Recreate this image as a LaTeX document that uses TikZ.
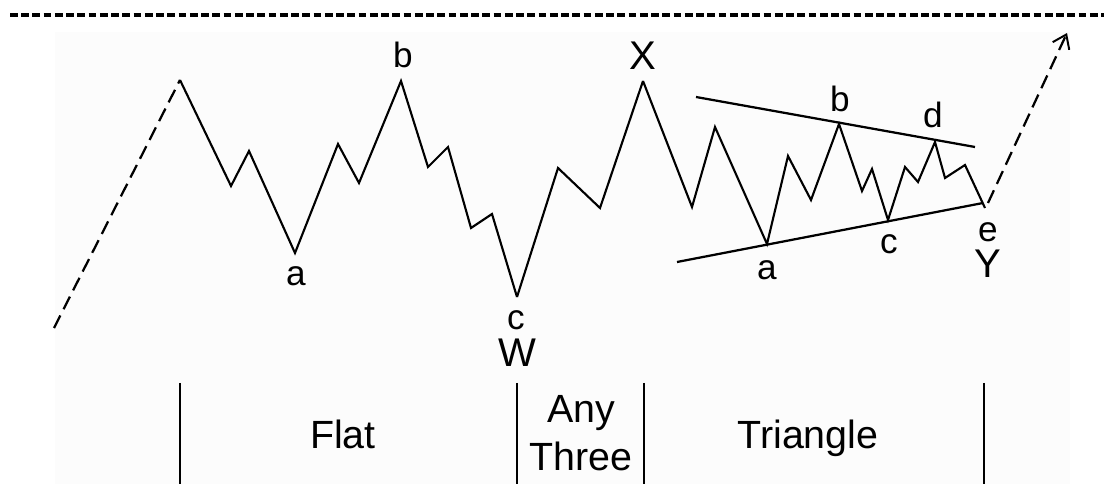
\documentclass[tikz,border=0pt]{standalone}
\usepackage{fontspec}
\setmainfont{Liberation Sans}
\usepackage{tikz}
\usetikzlibrary{arrows.meta}

\begin{document}
\begin{tikzpicture}[
    x=0.025cm, y=-0.025cm,
    wave/.style={line width=1.5pt, line join=miter},
    trend/.style={line width=1.6pt},
    lead/.style={line width=1.6pt, dash pattern=on 10pt off 5pt},
    border/.style={line width=2.6pt, dash pattern=on 5.5pt off 2.5pt},
    bar/.style={line width=1.5pt},
    lbl/.style={inner sep=0pt, anchor=base, font=\fontsize{25}{30}\selectfont},
    biglbl/.style={inner sep=0pt, anchor=base, font=\fontsize{28.5}{34}\selectfont},
    section/.style={inner sep=0pt, anchor=base, align=center, font=\fontsize{28}{33.5}\selectfont}
]
\useasboundingbox (0,0) rectangle (1104,484);
\fill[black!1] (55,32) rectangle (1070,484);

% Top border
\draw[border] (10,15) -- (1104,15);

% Wave points
\coordinate (s0) at (54,328);
\coordinate (p0) at (180,80);
\coordinate (fa) at (295,253);
\coordinate (fb) at (401,81);
\coordinate (wc) at (517,297);
\coordinate (xx) at (643,81);
\coordinate (ta) at (767,244);
\coordinate (tb) at (839,124);
\coordinate (tc) at (888,220);
\coordinate (td) at (935,142);
\coordinate (te) at (985,208);
\coordinate (go) at (1067,33);

% Lead-in and lead-out
\draw[lead] (s0) -- (p0);
\draw[lead, -{Straight Barb[length=9pt, width=13pt, line width=1.4pt]}] (988,203) -- (go);

% Flat
\draw[wave] (p0) -- (231,186) -- (249,151) -- (fa) -- (338,144) -- (359,183)
    -- (fb) -- (428,167) -- (448,147) -- (471,228) -- (492,214) -- (wc);
% Any three
\draw[wave] (wc) -- (558,168) -- (600,208) -- (xx);
% Triangle
\draw[wave] (xx) -- (692,207) -- (715,127) -- (ta) -- (788,156) -- (811,200)
    -- (tb) -- (862,191) -- (872,169) -- (tc) -- (905,167) -- (918,182)
    -- (td) -- (945,178) -- (965,165) -- (te);

% Trend lines
\draw[trend] (696,97) -- (975,147);
\draw[trend] (677,262) -- (983,203);

% Labels
\node (lfb) [lbl] at (403,68) {b};
\node (lfa) [lbl] at (296,286) {a};
\node (lwc) [lbl] at (516,330) {c};
\node (lw) [biglbl] at (517,367) {W};
\node (lx) [biglbl] at (643,70) {X};
\node (ltb) [lbl] at (840,112) {b};
\node (ltd) [lbl] at (933,128) {d};
\node (lta) [lbl] at (767,280) {a};
\node (ltc) [lbl] at (889,254) {c};
\node (lte) [lbl] at (988,242) {e};
\node (ly) [biglbl] at (988,278) {Y};

% Sections
\draw[bar] (180,383) -- (180,484);
\draw[bar] (517,383) -- (517,484);
\draw[bar] (644,383) -- (644,484);
\draw[bar] (984,383) -- (984,484);
\node (flat) [section] at (343,448) {Flat};
\node (any) [section] at (581,423) {Any};
\node (three) [section] at (581,470) {Three};
\node (tri) [section] at (808,448) {Triangle};

\end{tikzpicture}
\end{document}
